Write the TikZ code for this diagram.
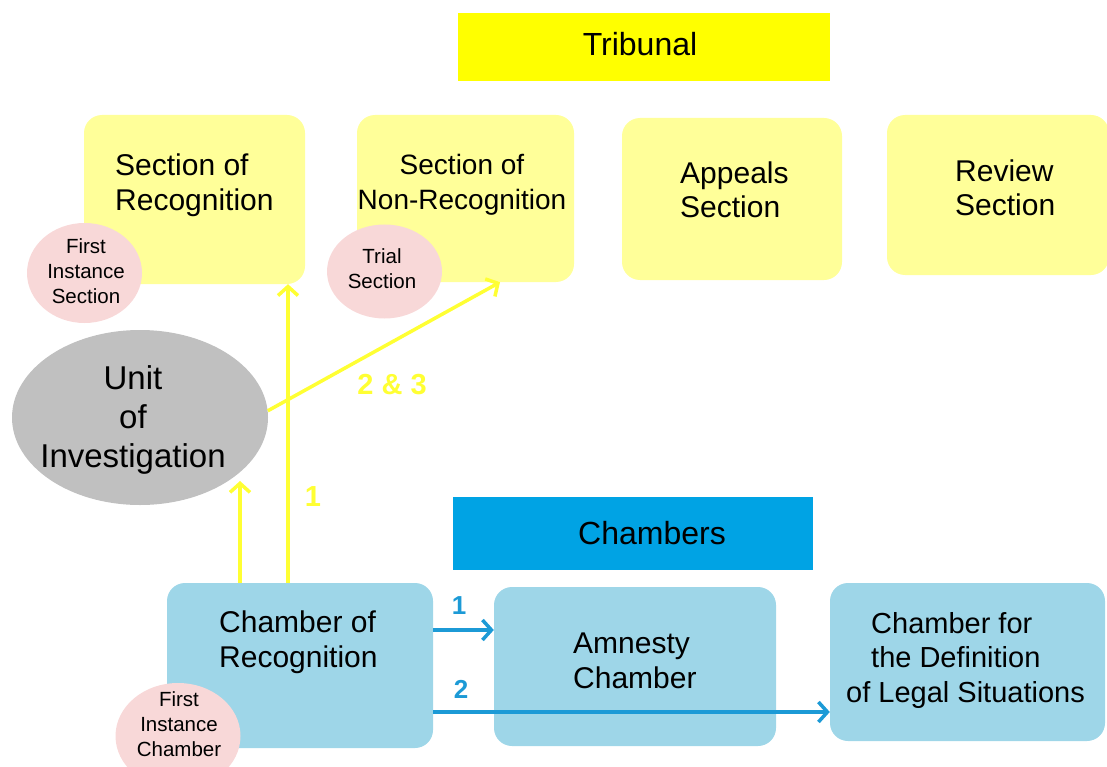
\documentclass[tikz,border=0pt]{standalone}
\usepackage{fontspec}
\setmainfont{Liberation Sans}
\usetikzlibrary{arrows.meta,shapes.geometric}
\definecolor{tribY}{HTML}{FFFF00}
\definecolor{secY}{HTML}{FFFF99}
\definecolor{pinkC}{HTML}{F8D8D8}
\definecolor{grayC}{HTML}{C0C0C0}
\definecolor{chamB}{HTML}{00A3E4}
\definecolor{boxB}{HTML}{9ED6E8}
\definecolor{arrB}{HTML}{1C9AD6}
\definecolor{arrY}{HTML}{FFFF33}
\begin{document}
\begin{tikzpicture}[x=1pt,y=-1pt,
  secbox/.style={fill=secY, rounded corners=18pt, inner sep=0pt},
  chbox/.style={fill=boxB, rounded corners=18pt, inner sep=0pt},
  bigtxt/.style={font=\fontsize{30}{34.5}\selectfont, align=left, inner sep=0pt, anchor=west},
  ctrtxt/.style={font=\fontsize{28}{34.5}\selectfont, align=center, inner sep=0pt},
  unittxt/.style={font=\fontsize{33}{39}\selectfont, align=center, inner sep=0pt},
  smalltxt/.style={font=\fontsize{20.5}{25}\selectfont, align=center, inner sep=0pt},
  headtxt/.style={font=\fontsize{32}{38}\selectfont, inner sep=0pt},
  bubble/.style={ellipse, fill=pinkC, inner sep=0pt},
  yarrow/.style={draw=arrY, line width=3.5pt, -{Straight Barb[length=9pt, width=20pt, line width=3.5pt]}},
  barrow/.style={draw=arrB, line width=3.5pt, -{Straight Barb[length=9pt, width=20pt, line width=3.5pt]}},
  ylab/.style={text=arrY, font=\fontsize{29}{34}\selectfont\bfseries, inner sep=0pt},
  blab/.style={text=arrB, font=\fontsize{26}{30}\selectfont\bfseries, inner sep=0pt}
]
\useasboundingbox (0,0) rectangle (1107,767);

% Tribunal header
\node[fill=tribY, minimum width=372pt, minimum height=68pt, inner sep=0pt] (trib) at (644,47) {};
\node[headtxt] (tribt) at (640,44) {Tribunal};

% Section boxes
\node[secbox, minimum width=221pt, minimum height=169pt] (sr) at (194.5,199.5) {};
\node[secbox, minimum width=217pt, minimum height=167pt] (snr) at (465.5,198.5) {};
\node[secbox, minimum width=220pt, minimum height=162pt] (as) at (732,199) {};
\node[secbox, minimum width=222pt, minimum height=160pt] (rs) at (998,195) {};
\node[bigtxt] (srt) at (115,185) {Section of\\Recognition};
\node[ctrtxt] (snrt) at (462,185) {Section of\\Non-Recognition};
\node[bigtxt] (ast) at (680,190) {Appeals\\Section};
\node[bigtxt] (rst) at (955,188) {Review\\Section};

% Bubbles
\node[bubble, minimum width=115pt, minimum height=100pt] (fis) at (84.5,273) {};
\node[smalltxt] (fist) at (86,271) {First\\Instance\\Section};
\node[bubble, minimum width=115pt, minimum height=94pt] (ts) at (384.5,271.5) {};
\node[smalltxt] (tst) at (382,269) {Trial\\Section};

% Unit of Investigation
\node[ellipse, fill=grayC, minimum width=256pt, minimum height=175pt, inner sep=0pt] (unit) at (140,417.5) {};
\node[unittxt] (unitt) at (133,420) {Unit\\of\\Investigation};

% Chambers header
\node[fill=chamB, minimum width=360pt, minimum height=73pt, inner sep=0pt] (cham) at (633,533.5) {};
\node[headtxt] (chamt) at (652,533) {Chambers};

% Chamber boxes
\node[chbox, minimum width=266pt, minimum height=165pt] (cr) at (300,665.5) {};
\node[chbox, minimum width=282pt, minimum height=159pt] (am) at (635,666.5) {};
\node[chbox, minimum width=275pt, minimum height=158pt] (cd) at (967.5,662) {};
\node[bigtxt] (crt) at (219,642) {Chamber of\\Recognition};
\node[bigtxt] (amt) at (573,661) {Amnesty\\Chamber};
\node[bigtxt, font=\fontsize{29}{34.5}\selectfont] (cdt) at (871,660) {Chamber for\\the Definition\\\hspace*{-25pt}of Legal Situations};
\node[bubble, minimum width=125pt, minimum height=106pt] (fic) at (178,736) {};
\node[smalltxt] (fict) at (179,724) {First\\Instance\\Chamber};

% helper coordinates
\coordinate (xa) at (240,0);
\coordinate (xb) at (288,0);
\coordinate (xc) at (500,0);
\coordinate (ua) at (240,481);
\coordinate (yb1) at (0,630);
\coordinate (yb2) at (0,712);

% Yellow connectors
\draw[yarrow] (cr.north -| xa) -- (ua);
\draw[yarrow] (cr.north -| xb) -- (sr.south -| xb);
\draw[yarrow] (unit.3) -- (snr.south -| xc);
\node[ylab] (l1) at (313,497) {1};
\node[ylab] (l23) at (392,385) {2 \& 3};

% Blue connectors
\draw[barrow] (cr.east |- yb1) -- (am.west |- yb1);
\draw[barrow] (cr.east |- yb2) -- (cd.west |- yb2);
\node[blab] (b1) at (459,606) {1};
\node[blab] (b2) at (461,689) {2};
\end{tikzpicture}
\end{document}
